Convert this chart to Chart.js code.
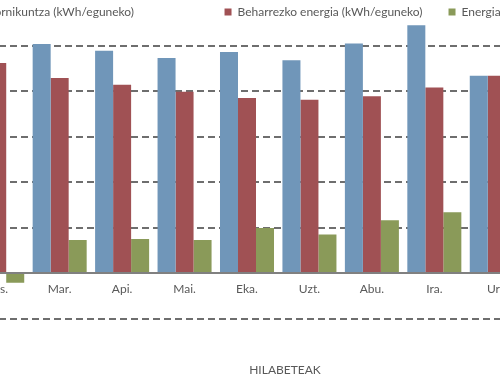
<!doctype html>
<html lang="eu">
<head>
  <meta charset="utf-8" />
  <title></title>
  <style>
    html, body { margin: 0; padding: 0; overflow: hidden; background: #fff; }
    #canva { position: absolute; left: -165px; top: -20px; }
  </style>
</head>
<body>
<div id="canva"><canvas id="myChart" width="900" height="400"></canvas></div>
<script src="https://cdn.jsdelivr.net/npm/chart.js@4/dist/chart.umd.min.js"></script>
<script>
// hilabeteak (lehenengoa ezkerrean moztuta dago)
var months = ['Ors.', 'Mar.', 'Api.', 'Mai.', 'Eka.', 'Uzt.', 'Abu.', 'Ira.', 'Urr.'];
var hornikuntza = [4.41, 5.04, 4.89, 4.73, 4.86, 4.68, 5.05, 5.45, 4.34];
var beharrezkoa = [4.62, 4.29, 4.14, 3.99, 3.85, 3.81, 3.89, 4.08, 4.34];
var balantzea   = [-0.21, 0.73, 0.75, 0.73, 0.99, 0.85, 1.16, 1.34, 0.0];
var labels = ['Energia hornikuntza (kWh/eguneko)', 'Beharrezko energia (kWh/eguneko)', 'Energia balantzea (kWh/eguneko)'];
var axisTitle = 'HILABETEAK';
</script>
<script>
var FONT = 'Lato, "DejaVu Sans", sans-serif';
Chart.defaults.font.family = FONT;
Chart.defaults.font.size = 12;
Chart.defaults.color = '#595959';

// lehen legendako sarrerak tarte handiagoa du ondorengoarekin
function padLabel(text, target) {
  var c = document.createElement('canvas').getContext('2d');
  c.font = '12px ' + FONT;
  while (c.measureText(text).width < target) text += '\u00a0';
  return text;
}

function Draw() {
const ctx = document.getElementById('myChart');
const myChart = new Chart(ctx, {
    type: 'bar',
    data: {
        labels: months,
        datasets: [{
            label: padLabel(labels[0], 252),
            data: hornikuntza,
            backgroundColor: '#7096b9',
        }, {
            label: labels[1],
            data: beharrezkoa,
            backgroundColor: '#a05154',
        }, {
            label: labels[2],
            data: balantzea,
            backgroundColor: '#8a9a59',
        }]
    },
    options: {
      responsive: false,
      animation: false,
      layout: { padding: 0 },
      datasets: { bar: { categoryPercentage: 0.865, barPercentage: 1.0, borderWidth: 0 } },
      plugins: {
        legend: {
          position: 'top',
          align: 'center',
          maxHeight: 43,
          labels: { boxWidth: 7, boxHeight: 7, padding: 26, color: '#595959', font: { size: 12 } }
        },
        title: {
          display: true,
          position: 'bottom',
          text: axisTitle,
          color: '#595959',
          font: { size: 12, weight: 'normal' },
          padding: { top: 44, bottom: 3 }
        },
        tooltip: { enabled: false }
      },
      scales: {
        x: {
          position: { y: 0 },
          grid: { display: false, drawTicks: true, tickLength: 8 },
          border: { display: true, color: '#808080', width: 2 },
          ticks: { padding: 1, color: '#595959' }
        },
        y: {
          position: 'left',
          min: -1,
          max: 5.5,
          afterFit: function (s) { s.width = 131; },
          ticks: { display: false, stepSize: 1 },
          grid: {
            drawTicks: false,
            lineWidth: 2,
            color: function (c) {
              var v = c.tick ? c.tick.value : 0;
              if (v === 0 || v % 1 !== 0) return 'rgba(0,0,0,0)';
              return '#6e6e6e';
            }
          },
          border: { display: false, dash: [7, 4] }
        },
        yRight: {
          type: 'linear',
          position: 'right',
          afterFit: function (s) { s.width = 207; },
          ticks: { display: false },
          grid: { display: false, drawTicks: false },
          border: { display: false }
        }
      }
    }
});
}
Draw();
</script>
</body>
</html>
